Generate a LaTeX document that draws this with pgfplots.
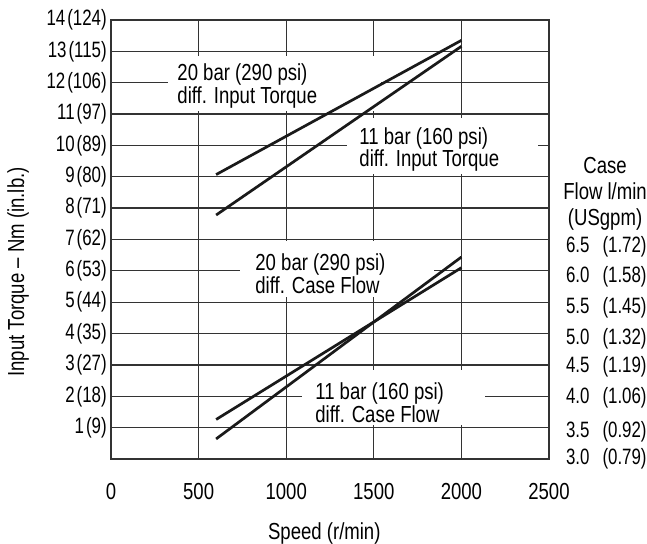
\documentclass[border=0pt]{standalone}
\usepackage{fontspec}
\setmainfont{Liberation Sans}[FakeStretch=0.8]
\newfontfamily\tickfont{Liberation Sans}[FakeStretch=0.76]
\usepackage{pgfplots}
\pgfplotsset{compat=1.18}
\newcommand\fs{\fontsize{11.6}{11.3}\selectfont}
\newcommand\tfs{\tickfont\fontsize{11.1}{11.1}\selectfont}
\definecolor{gridc}{HTML}{333333}
\definecolor{linec}{HTML}{1A1A1A}
\begin{document}
\begin{tikzpicture}
\useasboundingbox (-55.5pt,-42.5pt) rectangle (268pt,229.5pt);
\begin{axis}[
 at={(0pt,0pt)}, anchor=south west,
 scale only axis, width=219pt, height=219.5pt,
 clip=false,
 xmin=0,xmax=2500,ymin=0,ymax=14,
 xtick={0,500,1000,1500,2000,2500},
 xticklabels={0,500,1000,1500,2000,2500},
 ytick={1,2,3,4,5,6,7,8,9,10,11,12,13,14},
 yticklabels={1\hspace{1pt}(9),2\hspace{1pt}(18),3\hspace{1pt}(27),4\hspace{1pt}(35),5\hspace{1pt}(44),6\hspace{1pt}(53),7\hspace{1pt}(62),8\hspace{1pt}(71),9\hspace{1pt}(80),10\hspace{1pt}(89),11\hspace{1pt}(97),12\hspace{1pt}(106),13\hspace{1pt}(115),14\hspace{1pt}(124)},
 major tick length=0pt,
 grid=major,
 grid style={gridc, line width=0.65pt},
 axis line style={gridc, line width=0.65pt},
 xticklabel style={yshift=-8.6pt, font=\fs},
 yticklabel style={xshift=1.4pt, font=\tfs},
 label style={font=\fs, inner sep=0pt},
 xlabel={Speed (r/min)},
 ylabel={Input Torque – Nm (in.lb.)},
 xlabel style={at={(rel axis cs:0.487,-0.1686)},anchor=center},
 ylabel style={at={(rel axis cs:-0.2123,0.426)},anchor=center},
]
% white boxes behind the annotations
\fill[white] (axis cs:328,11.1) rectangle (axis cs:1540,12.84);
\fill[white] (axis cs:1349,9.1) rectangle (axis cs:2435,10.87);
\fill[white] (axis cs:737,5.16) rectangle (axis cs:1845,6.94);
\fill[white] (axis cs:1092,1.1) rectangle (axis cs:2132,2.84);
% input torque
\addplot[linec, line width=1.35pt] coordinates {(600,9.07) (2000,13.35)};
\addplot[linec, line width=1.35pt] coordinates {(600,7.78) (2000,13.16)};
\node[anchor=west, align=left, font=\fs, inner sep=0pt] at (axis cs:377,11.90) {20 bar (290 psi)\\diff. Input Torque};
\node[anchor=west, align=left, font=\fs, inner sep=0pt] at (axis cs:1416,9.87) {11 bar (160 psi)\\diff. Input Torque};
\node[anchor=west, align=left, font=\fs, inner sep=0pt] at (axis cs:822,5.90) {20 bar (290 psi)\\diff. Case Flow};
\node[anchor=west, align=left, font=\fs, inner sep=0pt] at (axis cs:1164,1.80) {11 bar (160 psi)\\diff. Case Flow};
\end{axis}
\begin{axis}[
 at={(0pt,0pt)}, anchor=south west,
 scale only axis, width=219pt, height=219.5pt,
 clip=false,
 xmin=0,xmax=2500,ymin=3,ymax=10,
 hide x axis,
 axis y line*=right,
 axis line style={gridc, line width=0.65pt},
 ytick={3.0,3.435,3.973,4.467,4.913,5.407,5.907,6.385},
 yticklabels={3.0\hspace{6.5pt}(0.79),3.5\hspace{6.5pt}(0.92),4.0\hspace{6.5pt}(1.06),4.5\hspace{6.5pt}(1.19),5.0\hspace{6.5pt}(1.32),5.5\hspace{6.5pt}(1.45),6.0\hspace{6.5pt}(1.58),6.5\hspace{6.5pt}(1.72)},
 major tick length=0pt,
 yticklabel style={anchor=west, xshift=5pt, font=\tfs},
]
% case flow
\addplot[linec, line width=1.35pt] coordinates {(600,3.63) (2000,6.05)};
\addplot[linec, line width=1.35pt] coordinates {(600,3.32) (2000,6.22)};
\node[align=center, inner sep=0pt, font=\fontsize{11.6}{13}\selectfont] at (rel axis cs:1.128,0.604) {Case\\Flow l/min\\(USgpm)};
\end{axis}
\end{tikzpicture}
\end{document}
